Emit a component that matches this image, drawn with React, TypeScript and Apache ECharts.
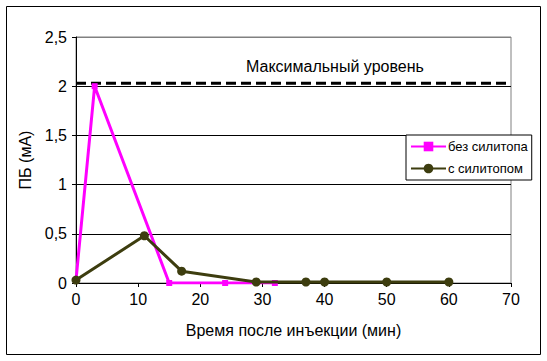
import React, { useEffect, useRef } from "react";
import * as echarts from "echarts";

const xTicksMax = 70;
const yTicksMax = 2.5;
const seriesNames = ["без силитопа", "с силитопом"];
const timeNoSilitop = [0, 3, 15, 24, 32];
const valuesNoSilitop = [0.03, 2.0, 0, 0, 0];
const timeSilitop = [0, 11, 17, 29, 37, 40, 50, 60];
const valuesSilitop = [0.03, 0.48, 0.12, 0.01, 0.01, 0.01, 0.01, 0.01];
const maxLevel = 2.03;
const maxLevelLabel = "Максимальный уровень";
const xAxisTitle = "Время после инъекции (мин)";
const yAxisTitle = "ПБ (мА)";

const FONT = "'Liberation Sans', Arial, sans-serif";

export default function App() {
  const ref = useRef<HTMLDivElement>(null);
  useEffect(() => {
    if (!ref.current) return;
    const chart = echarts.init(ref.current, undefined, { renderer: "svg" });
    const pairs = (xs: number[], ys: number[]) => xs.map((x, i) => [x, ys[i]]);
    chart.setOption({
      animation: false,
      backgroundColor: "#fff",
      textStyle: { fontFamily: FONT, color: "#000" },
      grid: {
        left: 76,
        right: 36,
        top: 37,
        bottom: 78,
        show: true,
        borderColor: "#808080",
        borderWidth: 1,
        backgroundColor: "transparent",
      },
      xAxis: {
        type: "value",
        min: 0,
        max: xTicksMax,
        interval: 10,
        name: xAxisTitle,
        nameLocation: "middle",
        nameGap: 39,
        nameTextStyle: { fontSize: 16, color: "#000", fontFamily: FONT },
        axisLine: { show: true, lineStyle: { color: "#000", width: 1 } },
        axisTick: { show: true, length: 4, lineStyle: { color: "#000" } },
        axisLabel: { fontSize: 16, color: "#000", margin: 8, fontFamily: FONT },
        splitLine: { show: false },
      },
      yAxis: {
        type: "value",
        min: 0,
        max: yTicksMax,
        interval: 0.5,
        name: yAxisTitle,
        nameLocation: "middle",
        nameGap: 40,
        nameRotate: 90,
        nameTextStyle: { fontSize: 16, color: "#000", fontFamily: FONT },
        axisLine: { show: true, lineStyle: { color: "#000", width: 1 } },
        axisTick: { show: true, length: 4, lineStyle: { color: "#000" } },
        axisLabel: {
          fontSize: 16,
          color: "#000",
          margin: 9,
          fontFamily: FONT,
          formatter: (v: number) => String(v).replace(".", ","),
        },
        splitLine: {
          show: true,
          lineStyle: { color: ["#000", "#000", "#000", "#000", "#000", "#808080"], width: 1 },
        },
      },
      legend: {
        orient: "vertical",
        left: 406,
        top: 135,
        data: seriesNames,
        backgroundColor: "#fff",
        borderColor: "#000",
        borderWidth: 1,
        borderRadius: 0,
        padding: [5, 4, 5, 4],
        itemWidth: 35,
        itemHeight: 12,
        itemGap: 9,
        textStyle: { fontSize: 13, color: "#000", fontFamily: FONT, padding: [0, 0, 0, -3] },
      },
      series: [
        {
          name: "max",
          type: "line",
          data: [
            [0, maxLevel],
            [xTicksMax, maxLevel],
          ],
          showSymbol: false,
          symbol: "none",
          lineStyle: { color: "#000", width: 3, type: [10, 5] },
          silent: true,
          z: 1,
        },
        {
          name: seriesNames[0],
          type: "line",
          data: pairs(timeNoSilitop, valuesNoSilitop),
          symbol: "rect",
          symbolSize: 6,
          itemStyle: { color: "#ff00ff" },
          lineStyle: { color: "#ff00ff", width: 3 },
          z: 3,
        },
        {
          name: seriesNames[1],
          type: "line",
          data: pairs(timeSilitop, valuesSilitop),
          symbol: "circle",
          symbolSize: 9,
          itemStyle: { color: "#3d3d0f" },
          lineStyle: { color: "#3d3d0f", width: 3 },
          z: 4,
        },
      ],
      graphic: [
        {
          type: "rect",
          shape: { x: 6.5, y: 6.5, width: 534, height: 348 },
          style: { fill: "none", stroke: "#000", lineWidth: 1 },
          silent: true,
          z: 0,
        },
        {
          type: "text",
          left: 246,
          top: 58,
          style: { text: maxLevelLabel, fontSize: 16, fill: "#000", fontFamily: FONT },
          z: 10,
        },
      ],
    });
    return () => chart.dispose();
  }, []);
  return (
    <div
      ref={ref}
      style={{ position: "fixed", left: 0, top: 0, width: 547, height: 361 }}
    />
  );
}
